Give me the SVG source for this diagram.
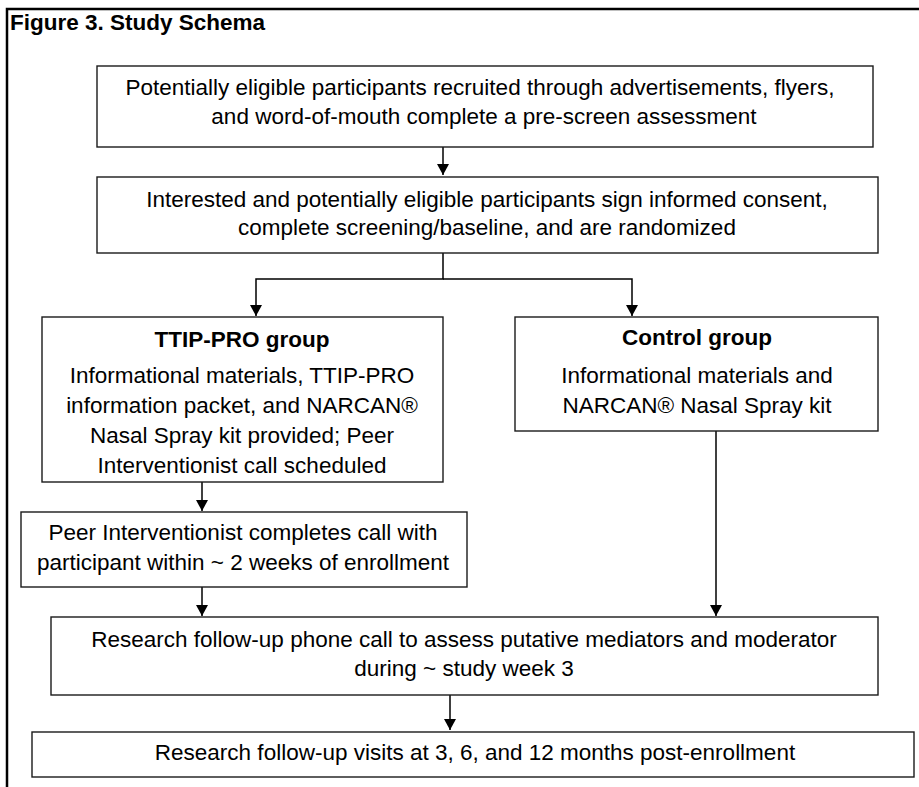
<svg xmlns="http://www.w3.org/2000/svg" width="919" height="787" viewBox="0 0 919 787">
<style>
.box{fill:#fff;stroke:#1a1a1a;stroke-width:1.4}
.t{font-family:"Liberation Sans",Arial,sans-serif;font-size:22.5px;fill:#000;text-anchor:middle}
.b{font-weight:bold}
.con{fill:none;stroke:#000;stroke-width:1.5}
.frame{stroke:#000;stroke-width:2.5;fill:none}
</style>
<defs>
<marker id="ah" markerUnits="userSpaceOnUse" markerWidth="12" markerHeight="12" refX="10" refY="5.5" orient="auto" viewBox="0 0 10 11">
<path d="M0,0 L10,5.5 L0,11 z" fill="#000"/>
</marker>
</defs>
<rect width="919" height="787" fill="#fff"/>
<g id="frame">
<path class="frame" d="M7,787 V9 H919"/>
<text x="10" y="30" class="t b" style="text-anchor:start">Figure 3. Study Schema</text>
</g>
<g id="connectors">
<path class="con" d="M443,147 V175" marker-end="url(#ah)"/>
<path class="con" d="M443,253 V279 H256 V316" marker-end="url(#ah)"/>
<path class="con" d="M443,279 H632 V316" marker-end="url(#ah)"/>
<path class="con" d="M202,482 V511" marker-end="url(#ah)"/>
<path class="con" d="M202,587 V616" marker-end="url(#ah)"/>
<path class="con" d="M716,431 V616" marker-end="url(#ah)"/>
<path class="con" d="M450,695 V730" marker-end="url(#ah)"/>
</g>
<g id="recruit">
<rect class="box" x="97" y="66" width="776" height="81"/>
<text class="t" x="480" y="95">Potentially eligible participants recruited through advertisements, flyers,</text>
<text class="t" x="484" y="124">and word-of-mouth complete a pre-screen assessment</text>
</g>
<g id="consent">
<rect class="box" x="97" y="177" width="781" height="76"/>
<text class="t" x="487" y="207">Interested and potentially eligible participants sign informed consent,</text>
<text class="t" x="487" y="235">complete screening/baseline, and are randomized</text>
</g>
<g id="ttip">
<rect class="box" x="42" y="317" width="401" height="165"/>
<text class="t b" x="242" y="347">TTIP-PRO group</text>
<text class="t" x="242" y="383">Informational materials, TTIP-PRO</text>
<text class="t" x="242" y="413">information packet, and NARCAN®</text>
<text class="t" x="242" y="443">Nasal Spray kit provided; Peer</text>
<text class="t" x="242" y="473">Interventionist call scheduled</text>
</g>
<g id="control">
<rect class="box" x="515" y="317" width="363" height="114"/>
<text class="t b" x="697" y="345">Control group</text>
<text class="t" x="697" y="383">Informational materials and</text>
<text class="t" x="697" y="413">NARCAN® Nasal Spray kit</text>
</g>
<g id="peer">
<rect class="box" x="21" y="512" width="446" height="75"/>
<text class="t" x="243" y="540">Peer Interventionist completes call with</text>
<text class="t" x="243" y="570">participant within ~ 2 weeks of enrollment</text>
</g>
<g id="phone">
<rect class="box" x="51" y="617" width="827" height="78"/>
<text class="t" x="464" y="647">Research follow-up phone call to assess putative mediators and moderator</text>
<text class="t" x="464" y="676">during ~ study week 3</text>
</g>
<g id="visits">
<rect class="box" x="32" y="732" width="882" height="45"/>
<text class="t" x="475" y="760">Research follow-up visits at 3, 6, and 12 months post-enrollment</text>
</g>
</svg>
